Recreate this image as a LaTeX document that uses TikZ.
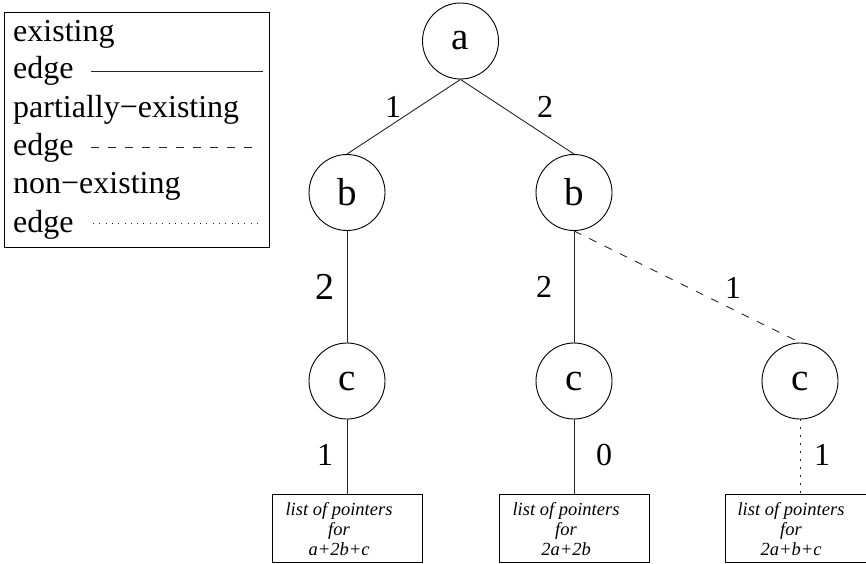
\documentclass[tikz,border=0pt]{standalone}
\usepackage{fontspec}
\setmainfont{Liberation Serif}
\begin{document}
\begin{tikzpicture}[x=1pt,y=-1pt,
  every node/.style={inner sep=0pt},
  edgeline/.style={line width=0.9pt, draw=black!85},
  partial/.style={edgeline, dash pattern=on 8pt off 9pt},
  missing/.style={edgeline, dash pattern=on 2pt off 6pt},
  missinglegend/.style={edgeline, dash pattern=on 1pt off 5.3pt},
  keynode/.style={circle, draw, line width=0.9pt, minimum size=76pt,
    font=\fontsize{39}{42}\selectfont},
  weight/.style={font=\fontsize{32}{36}\selectfont},
  bigweight/.style={font=\fontsize{38}{42}\selectfont},
  legendtext/.style={anchor=base west, font=\fontsize{32}{38}\selectfont},
  ptrbox/.style={draw, line width=0.9pt, minimum width=150pt, minimum height=68pt},
  ptrtext/.style={align=center, font=\fontsize{18.5}{20}\selectfont\itshape}]
\useasboundingbox (0,0) rectangle (866,563);

% legend
\node[draw, line width=0.9pt, minimum width=265pt, minimum height=235pt] (legend) at (136.5,129.5) {};
\node[legendtext] (l1) at (13,41) {existing};
\node[legendtext] (l2) at (13,78) {edge};
\node[legendtext] (l3) at (13,117) {partially−existing};
\node[legendtext] (l4) at (13,155) {edge};
\node[legendtext] (l5) at (13,193) {non−existing};
\node[legendtext] (l6) at (13,232) {edge};
\coordinate (s1) at (91,71);  \coordinate (s2) at (263,71);
\coordinate (d1) at (91,147); \coordinate (d2) at (261,147);
\coordinate (o1) at (93,223); \coordinate (o2) at (260,223);
\draw[edgeline] (s1) -- (s2);
\draw[partial] (d1) -- (d2);
\draw[missinglegend] (o1) -- (o2);

% trie nodes
\node[keynode] (a) at (460.5,41) {a};
\node[keynode] (b1) at (347,192.5) {b};
\node[keynode] (b2) at (574,192.5) {b};
\node[keynode] (c1) at (347,381) {c};
\node[keynode] (c2) at (574,381) {c};
\node[keynode] (c3) at (800,381) {c};

% pointer lists
\node[ptrbox] (p1) at (347,528) {};
\node[ptrbox] (p2) at (574,528) {};
\node[ptrbox] (p3) at (800,528) {};
\node[ptrtext] (t1) at (339,529) {list of pointers\\for\\a+2b+c};
\node[ptrtext] (t2) at (566,529) {list of pointers\\for\\2a+2b};
\node[ptrtext] (t3) at (791,529) {list of pointers\\for\\2a+b+c};

% edges
\draw[edgeline] (a.south) -- (b1.north);
\draw[edgeline] (a.south) -- (b2.north);
\draw[edgeline] (b1.south) -- (c1.north);
\draw[edgeline] (b2.south) -- (c2.north);
\draw[partial] (b2.south) -- (c3.north);
\draw[edgeline] (c1.south) -- (p1.north);
\draw[edgeline] (c2.south) -- (p2.north);
\draw[missing] (c3.south) -- (p3.north);

% edge weights
\node[weight] (w1) at (393,107) {1};
\node[weight] (w2) at (545,107) {2};
\node[bigweight] (w3) at (325,287) {2};
\node[weight] (w4) at (544,287) {2};
\node[weight] (w5) at (733,288) {1};
\node[weight] (w6) at (325,455) {1};
\node[weight] (w7) at (604,455) {0};
\node[weight] (w8) at (822,455) {1};
\end{tikzpicture}
\end{document}
